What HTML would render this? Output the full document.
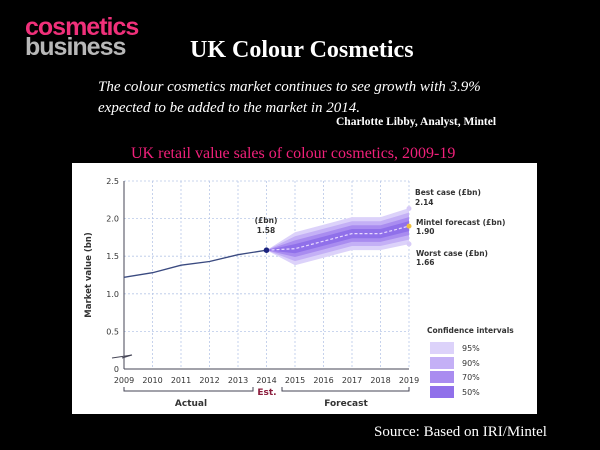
<!DOCTYPE html>
<html><head><meta charset="utf-8"><style>
body{margin:0;width:600px;height:450px;background:#000;overflow:hidden;position:relative;font-family:"Liberation Serif",serif;}
.a{position:absolute;white-space:nowrap}
</style></head><body>
<div class="a" style="left:25px;top:17px;font-family:'Liberation Sans',sans-serif;font-weight:bold;font-size:25px;line-height:20px;letter-spacing:-1px;color:#f0307a">cosmetics</div>
<div class="a" style="left:25px;top:37px;font-family:'Liberation Sans',sans-serif;font-weight:bold;font-size:25px;line-height:20px;letter-spacing:-1px;color:#b8b8b8">business</div>
<div class="a" style="left:190px;top:37px;font-size:24px;font-weight:bold;color:#fff">UK Colour Cosmetics</div>
<div class="a" style="left:98px;top:77px;font-size:15px;font-style:italic;color:#fff;line-height:21px">The colour cosmetics market continues to see growth with 3.9%<br>expected to be added to the market in 2014.</div>
<div class="a" style="left:336px;top:116px;font-size:11.5px;font-weight:bold;color:#fff">Charlotte Libby, Analyst, Mintel</div>
<div class="a" style="left:131px;top:145px;font-size:16px;color:#f0207a">UK retail value sales of colour cosmetics, 2009-19</div>
<div class="a" style="left:374px;top:424px;font-size:15px;color:#fff">Source: Based on IRI/Mintel</div>
<svg class="a" style="left:0;top:0" width="600" height="450" viewBox="0 0 600 450" font-family="'DejaVu Sans',sans-serif">
<rect x="72" y="163" width="465" height="251" fill="#fff"/>
<g stroke="#b8c8e8" stroke-width="0.8" stroke-dasharray="2,2">
<line x1="124" y1="181" x2="409" y2="181"/><line x1="124" y1="218.6" x2="409" y2="218.6"/><line x1="124" y1="256.2" x2="409" y2="256.2"/><line x1="124" y1="293.8" x2="409" y2="293.8"/><line x1="124" y1="331.4" x2="409" y2="331.4"/>
<line x1="152.5" y1="181" x2="152.5" y2="369"/><line x1="181" y1="181" x2="181" y2="369"/><line x1="209.5" y1="181" x2="209.5" y2="369"/><line x1="238" y1="181" x2="238" y2="369"/><line x1="266.5" y1="181" x2="266.5" y2="369"/><line x1="295" y1="181" x2="295" y2="369"/><line x1="323.5" y1="181" x2="323.5" y2="369"/><line x1="352" y1="181" x2="352" y2="369"/><line x1="380.5" y1="181" x2="380.5" y2="369"/><line x1="409" y1="181" x2="409" y2="369"/>
</g>
<g stroke="#445" stroke-width="1" fill="none">
<line x1="124" y1="181" x2="124" y2="369"/><line x1="124" y1="369" x2="409" y2="369"/>
<polyline points="112,358 132,355 122,358" fill="#fff"/>
<polyline points="124,387 124,391 253,391 253,387"/>
<polyline points="282,387 282,391 409,391 409,387"/>
</g>
<polygon fill="#dcd2fa" points="266.5,250.2 295,232.2 323.5,224.7 352,217.1 380.5,217.1 409,208.1 409,244.1 380.5,250.1 352,250.1 323.5,257.7 295,265.2"/>
<polygon fill="#c4b0f6" points="266.5,250.2 295,236.3 323.5,228.8 352,221.2 380.5,221.2 409,212.6 409,239.6 380.5,246 352,246 323.5,253.6 295,261.1"/>
<polygon fill="#a98cf0" points="266.5,250.2 295,240.4 323.5,232.9 352,225.3 380.5,225.3 409,217.1 409,235.1 380.5,241.9 352,241.9 323.5,249.5 295,257"/>
<polygon fill="#9070ea" points="266.5,250.2 295,244.1 323.5,236.6 352,229 380.5,229 409,221.1 409,231.1 380.5,238.2 352,238.2 323.5,245.8 295,253.3"/>
<polyline fill="none" stroke="#e8d8ff" stroke-width="1.2" stroke-dasharray="3,2" points="266.5,250.2 295,248.7 323.5,241.2 352,233.6 380.5,233.6 409,226.1"/>
<polyline fill="none" stroke="#3a4a80" stroke-width="1.3" points="124,277.3 152.5,272.7 181,265.2 209.5,261.5 238,254.7 266.5,250.2"/>
<circle cx="266.5" cy="250.2" r="2.8" fill="#1a237e"/>
<circle cx="409" cy="208.5" r="2.5" fill="#d8ccf8"/><circle cx="409" cy="226.1" r="2.5" fill="#f0c040"/><circle cx="409" cy="244" r="2.5" fill="#d8ccf8"/>
<g font-size="8" fill="#333" text-anchor="end">
<text x="119" y="184">2.5</text><text x="119" y="221.6">2.0</text><text x="119" y="259.2">1.5</text><text x="119" y="296.8">1.0</text><text x="119" y="334.4">0.5</text><text x="119" y="372">0</text>
</g>
<g font-size="8" fill="#333" text-anchor="middle">
<text x="124" y="383">2009</text><text x="152.5" y="383">2010</text><text x="181" y="383">2011</text><text x="209.5" y="383">2012</text><text x="238" y="383">2013</text><text x="266.5" y="383">2014</text><text x="295" y="383">2015</text><text x="323.5" y="383">2016</text><text x="352" y="383">2017</text><text x="380.5" y="383">2018</text><text x="409" y="383">2019</text>
<text x="191" y="406" font-weight="bold" font-size="9">Actual</text><text x="346" y="406" font-weight="bold" font-size="9">Forecast</text>
<text x="267" y="395" font-weight="bold" font-size="9" fill="#8a1a3a">Est.</text>
<text x="266" y="223" font-weight="bold" font-size="7.5">(£bn)</text><text x="266" y="233" font-weight="bold" font-size="7.5">1.58</text>
</g>
<text transform="translate(91,275) rotate(-90)" text-anchor="middle" font-size="8.5" font-weight="bold" fill="#333">Market value (bn)</text>
<g font-size="7.5" font-weight="bold" fill="#333">
<text x="415" y="195">Best case (£bn)</text><text x="415" y="205">2.14</text>
<text x="416" y="225">Mintel forecast (£bn)</text><text x="416" y="234">1.90</text>
<text x="416" y="256">Worst case (£bn)</text><text x="416" y="265">1.66</text>
<text x="427" y="333">Confidence intervals</text>
</g>
<rect x="430" y="342" width="24" height="12" fill="#dcd2fa"/><rect x="430" y="357" width="24" height="12" fill="#c4b0f6"/><rect x="430" y="371" width="24" height="12" fill="#a98cf0"/><rect x="430" y="386" width="24" height="12" fill="#9070ea"/>
<g font-size="8" fill="#333"><text x="462" y="351">95%</text><text x="462" y="366">90%</text><text x="462" y="380">70%</text><text x="462" y="395">50%</text></g>
</svg>
</body></html>
